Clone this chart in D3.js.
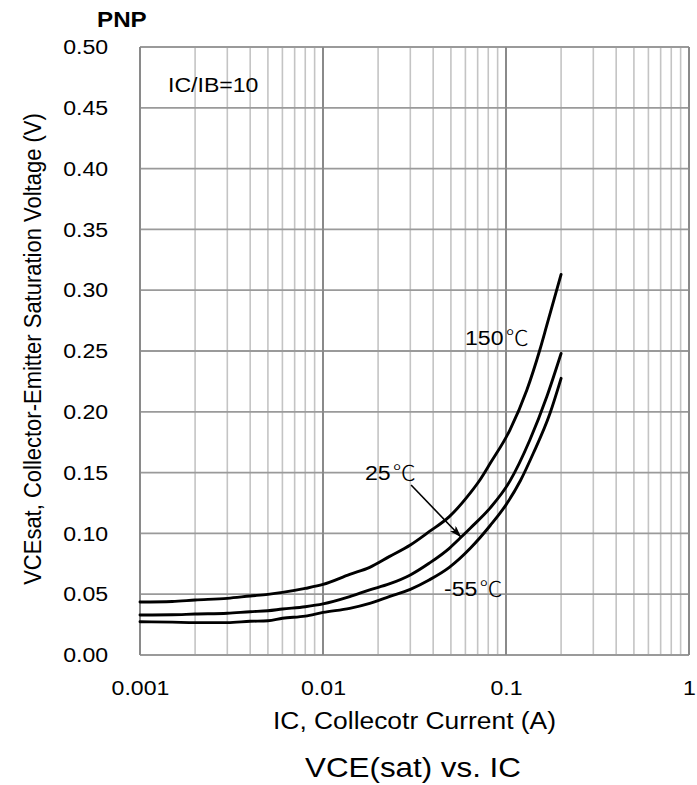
<!DOCTYPE html>
<html>
<head>
<meta charset="utf-8">
<script src="https://cdn.jsdelivr.net/npm/d3@7"></script>
<style>
  body { margin: 0; background: #fff; }
  svg { display: block; }
  text { font-family: Arial, "Liberation Sans", sans-serif; fill: #000; }
</style>
</head>
<body>
<svg id="chart" width="697" height="785"></svg>
<script>
// ---------------- data ----------------
const xTickValues = [0.001, 0.01, 0.1, 1];
const xTickLabels = ["0.001", "0.01", "0.1", "1"];
const yTickValues = [0, 0.05, 0.10, 0.15, 0.20, 0.25, 0.30, 0.35, 0.40, 0.45, 0.50];
const yTickLabels = ["0.00", "0.05", "0.10", "0.15", "0.20", "0.25", "0.30", "0.35", "0.40", "0.45", "0.50"];

// IC (A) and VCE(sat) (V)
const ic150 = [0.001, 0.0015, 0.002, 0.003, 0.004, 0.005, 0.006, 0.008, 0.01, 0.014, 0.018, 0.023, 0.03, 0.038, 0.049, 0.064, 0.072, 0.082, 0.105, 0.13, 0.153, 0.167, 0.2];
const v150  = [0.0436, 0.0440, 0.0452, 0.0466, 0.0485, 0.0499, 0.0515, 0.0548, 0.058, 0.0663, 0.0721, 0.0809, 0.0905, 0.1014, 0.1138, 0.1335, 0.1439, 0.1576, 0.185, 0.2179, 0.2508, 0.271, 0.313];

const ic25 = [0.001, 0.0015, 0.002, 0.003, 0.004, 0.005, 0.006, 0.008, 0.01, 0.014, 0.018, 0.023, 0.03, 0.038, 0.049, 0.056, 0.064, 0.082, 0.105, 0.135, 0.167, 0.2];
const v25  = [0.0329, 0.0331, 0.0337, 0.0343, 0.0356, 0.0364, 0.0378, 0.0397, 0.042, 0.048, 0.0535, 0.0584, 0.0658, 0.0754, 0.0877, 0.096, 0.1045, 0.121, 0.143, 0.1768, 0.2124, 0.248];

const icM55 = [0.001, 0.0015, 0.002, 0.003, 0.004, 0.005, 0.006, 0.008, 0.01, 0.014, 0.018, 0.023, 0.03, 0.038, 0.049, 0.064, 0.082, 0.1, 0.12, 0.141, 0.174, 0.2];
const vM55  = [0.0274, 0.0270, 0.0266, 0.0266, 0.0277, 0.0282, 0.0302, 0.032, 0.035, 0.0384, 0.0425, 0.048, 0.054, 0.0617, 0.0721, 0.088, 0.1065, 0.1235, 0.1435, 0.1659, 0.1988, 0.2275];

const seriesNames = ["150", "25", "-55"];
const degSymbol = "℃";

// annotation anchors in data units [IC, V]
const label150 = [0.0597, 0.255];
const label25 = [0.01696, 0.1439];
const labelM55 = [0.0458, 0.0485];
const ratioLabel = [0.001422, 0.463];
const arrowFrom = [0.0303, 0.1398];
const arrowTo = [0.0564, 0.0975];

// ---------------- drawing ----------------
const svg = d3.select("#chart");
const SX = 1.1; // horizontal stretch of text in the reference

const x = d3.scaleLog().domain([0.001, 1]).range([140, 689]);
const y = d3.scaleLinear().domain([0, 0.5]).range([655, 47]);

const grid = svg.append("g");
// minor vertical grid
const minor = [];
[0.001, 0.01, 0.1].forEach(d => { for (let k = 2; k <= 9; k++) minor.push(d * k); });
grid.selectAll("line.minor").data(minor).join("line")
  .attr("x1", d => x(d)).attr("x2", d => x(d))
  .attr("y1", y(0)).attr("y2", y(0.5))
  .attr("stroke", "#c4c4c4").attr("stroke-width", 1.6);
// horizontal grid
grid.selectAll("line.h").data(yTickValues).join("line")
  .attr("x1", x(0.001)).attr("x2", x(1))
  .attr("y1", d => y(d)).attr("y2", d => y(d))
  .attr("stroke", "#9a9a9a").attr("stroke-width", 1.8);
// major vertical grid
grid.selectAll("line.major").data(xTickValues).join("line")
  .attr("x1", d => x(d)).attr("x2", d => x(d))
  .attr("y1", y(0)).attr("y2", y(0.5))
  .attr("stroke", "#8a8a8a").attr("stroke-width", 2);

// axes
const yAxis = d3.axisLeft(y).tickValues(yTickValues)
  .tickFormat((d, i) => yTickLabels[i]).tickSize(0).tickPadding(29);
const gy = svg.append("g").attr("transform", `translate(${x(0.001)},0)`).call(yAxis);
gy.select(".domain").remove();
gy.selectAll("text").attr("font-size", 21).attr("fill", "#000")
  .style("font-family", 'Arial, "Liberation Sans", sans-serif')
  .attr("transform", `scale(${SX},1)`);

const xAxis = d3.axisBottom(x).tickValues(xTickValues)
  .tickFormat((d, i) => xTickLabels[i]).tickSize(0).tickPadding(25);
const gx = svg.append("g").attr("transform", `translate(0,${y(0)})`).call(xAxis);
gx.select(".domain").remove();
gx.selectAll("text").attr("font-size", 21).attr("fill", "#000")
  .style("font-family", 'Arial, "Liberation Sans", sans-serif')
  .attr("transform", `scale(${SX},1)`);

// curves
const line = d3.line().x(d => x(d[0])).y(d => y(d[1])).curve(d3.curveMonotoneX);
const series = [
  d3.zip(ic150, v150),
  d3.zip(ic25, v25),
  d3.zip(icM55, vM55)
];
svg.append("g").selectAll("path").data(series).join("path")
  .attr("d", line).attr("fill", "none").attr("stroke", "#000")
  .attr("stroke-width", 2.9).attr("stroke-linejoin", "round").attr("stroke-linecap", "round");

// helper for stretched text
function stretchedText(px, py, size, weight, anchor) {
  const g = svg.append("g").attr("transform", `translate(${px},${py}) scale(${SX},1)`);
  return g.append("text").attr("font-size", size).attr("font-weight", weight || "normal")
    .attr("text-anchor", anchor || "start");
}

// temperature labels
function tempLabel(pos, name) {
  const t = stretchedText(x(pos[0]), y(pos[1]), 21);
  t.append("tspan").text(name);
  t.append("tspan").text(degSymbol)
    .style("font-family", '"Noto Sans CJK SC", sans-serif').attr("font-weight", 300).attr("dx", 2);
}
tempLabel(label150, seriesNames[0]);
tempLabel(label25, seriesNames[1]);
tempLabel(labelM55, seriesNames[2]);

stretchedText(x(ratioLabel[0]), y(ratioLabel[1]), 21).text("IC/IB=10");

// arrow
const defs = svg.append("defs");
defs.append("marker").attr("id", "ah").attr("viewBox", "0 0 12 8")
  .attr("refX", 11).attr("refY", 4).attr("markerWidth", 12).attr("markerHeight", 8)
  .attr("markerUnits", "userSpaceOnUse").attr("orient", "auto")
  .append("path").attr("d", "M0,0 L12,4 L0,8 L3,4 Z").attr("fill", "#000");
svg.append("line")
  .attr("x1", x(arrowFrom[0])).attr("y1", y(arrowFrom[1]))
  .attr("x2", x(arrowTo[0])).attr("y2", y(arrowTo[1]))
  .attr("stroke", "#000").attr("stroke-width", 1.6).attr("marker-end", "url(#ah)");

// titles
stretchedText(97, 27, 22, "bold").text("PNP");
stretchedText(414.5, 729, 24, "normal", "middle").text("IC, Collecotr Current (A)");
stretchedText(413, 777, 28.5, "normal", "middle").text("VCE(sat) vs. IC");

svg.append("g").attr("transform", `translate(41,349) scale(${SX},1) rotate(-90)`)
  .append("text").attr("font-size", 22).attr("text-anchor", "middle")
  .text("VCEsat, Collector-Emitter Saturation Voltage (V)");
</script>
</body>
</html>
